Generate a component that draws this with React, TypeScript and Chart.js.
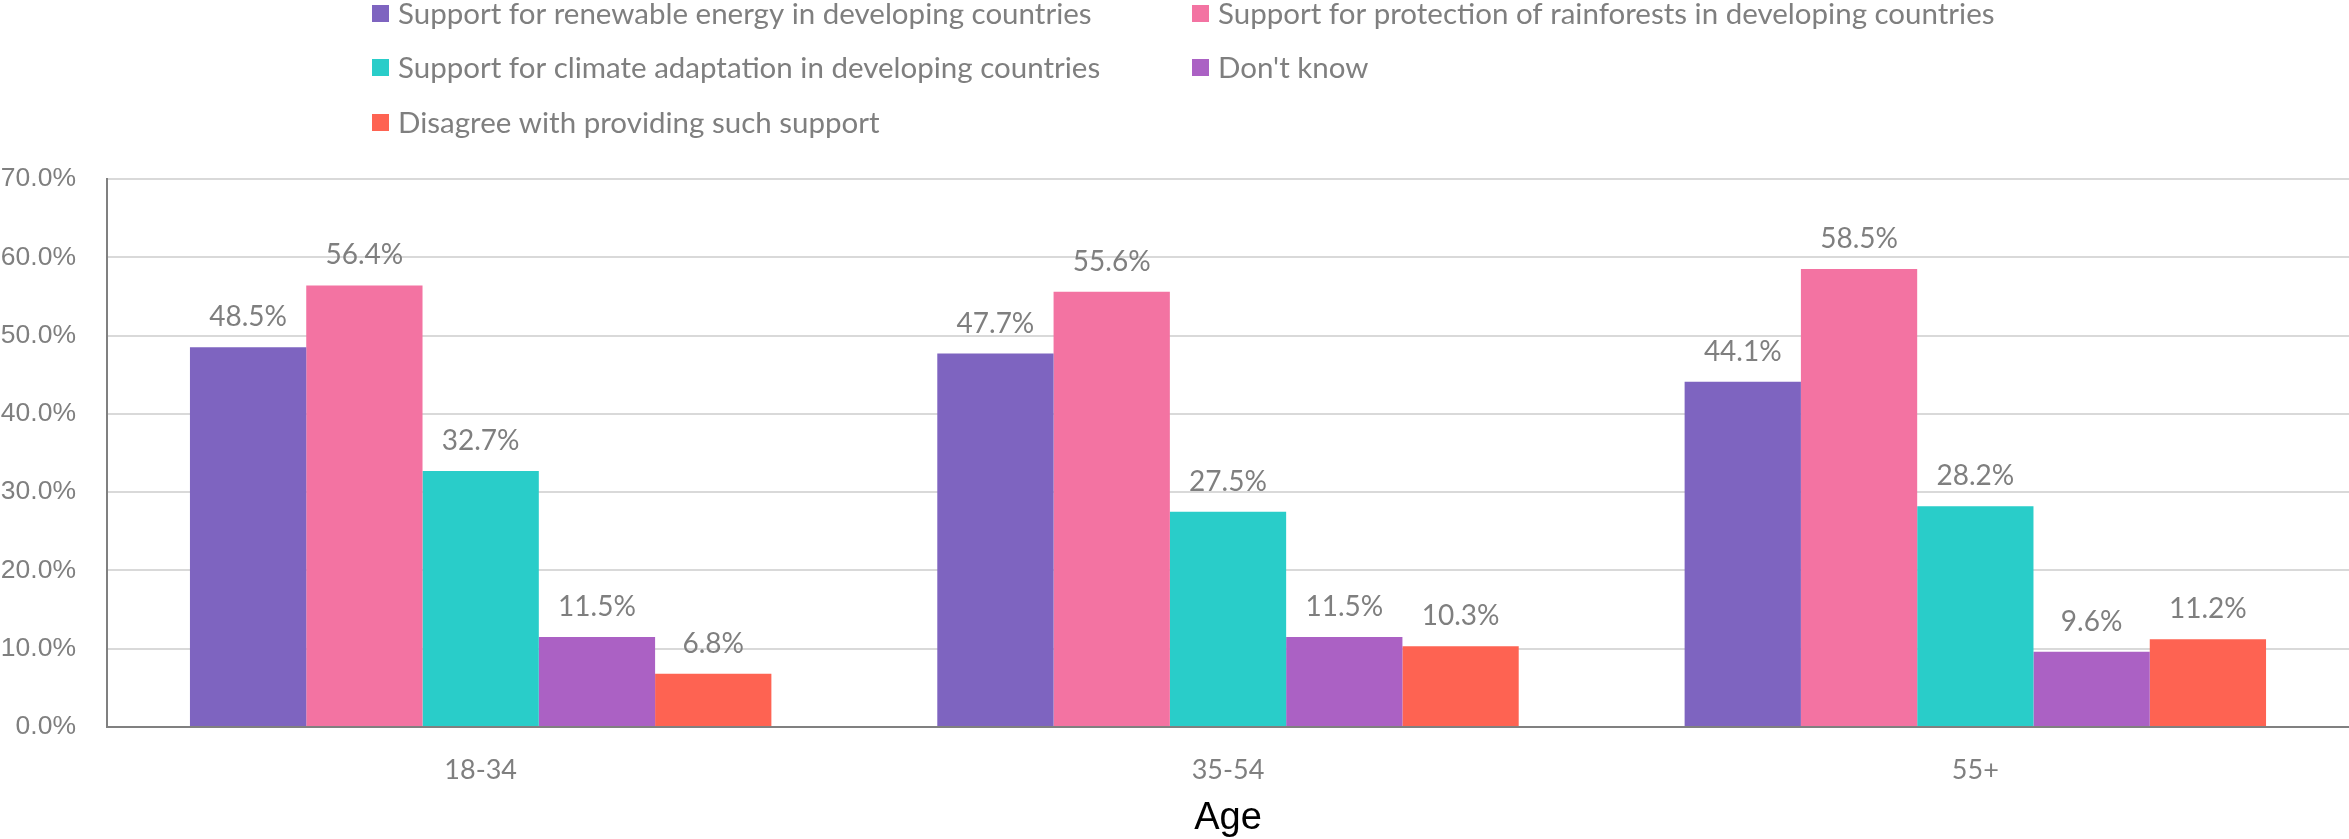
import React, { useEffect, useRef } from 'react';
import { Chart, registerables } from 'chart.js';

Chart.register(...registerables);

const categories = ['18-34', '35-54', '55+'];
const seriesNames = [
  'Support for renewable energy in developing countries',
  'Support for protection of rainforests in developing countries',
  'Support for climate adaptation in developing countries',
  "Don't know",
  'Disagree with providing such support',
];
const renewable = [48.5, 47.7, 44.1];
const rainforests = [56.4, 55.6, 58.5];
const adaptation = [32.7, 27.5, 28.2];
const dontKnow = [11.5, 11.5, 9.6];
const disagree = [6.8, 10.3, 11.2];
const seriesColors = ['#7E64C0', '#F373A2', '#29CDC9', '#AB61C4', '#FE6352'];
const yMin = 0;
const yMax = 70;
const yStep = 10;
const xTitle = 'Age';

const W = 2349;
const H = 839;
const GRAY = '#7f7f7f';

const legendPlugin = {
  id: 'gridLegend',
  afterDraw(chart: any) {
    const ctx = chart.ctx;
    const cols = [372, 1192];
    const rows = [13.5, 67.5, 122.5];
    ctx.save();
    ctx.font = '29.5px Lato';
    ctx.textAlign = 'left';
    ctx.textBaseline = 'alphabetic';
    chart.data.datasets.forEach((ds: any, i: number) => {
      const x = cols[i % 2];
      const y = rows[Math.floor(i / 2)];
      ctx.fillStyle = ds.backgroundColor;
      ctx.fillRect(x, y - 8.5, 17, 17);
      ctx.fillStyle = GRAY;
      ctx.fillText(ds.label, x + 26, y + 10);
    });
    ctx.restore();
  },
};

const valueLabelPlugin = {
  id: 'valueLabels',
  afterDatasetsDraw(chart: any) {
    const ctx = chart.ctx;
    ctx.save();
    ctx.font = '28px Lato';
    ctx.fillStyle = GRAY;
    ctx.textAlign = 'center';
    ctx.textBaseline = 'alphabetic';
    chart.data.datasets.forEach((ds: any, i: number) => {
      const meta = chart.getDatasetMeta(i);
      meta.data.forEach((bar: any, j: number) => {
        const v = ds.data[j] as number;
        ctx.fillText(v.toFixed(1) + '%', bar.x, bar.y - 21);
      });
    });
    ctx.restore();
  },
};

export default function App() {
  const ref = useRef<HTMLCanvasElement>(null);

  useEffect(() => {
    document.body.style.margin = '0';
    const canvas = ref.current;
    if (!canvas) return;
    const seriesData = [renewable, rainforests, adaptation, dontKnow, disagree];
    const chart = new Chart(canvas, {
      type: 'bar',
      data: {
        labels: categories,
        datasets: seriesNames.map((name, i) => ({
          label: name,
          data: seriesData[i],
          backgroundColor: seriesColors[i],
          borderWidth: 0,
          categoryPercentage: 0.778,
          barPercentage: 1,
        })),
      },
      options: {
        responsive: false,
        animation: false,
        devicePixelRatio: 1,
        layout: { padding: { top: 179, left: 0, right: 0, bottom: 0 } },
        plugins: {
          legend: { display: false },
          tooltip: { enabled: false },
          title: { display: false },
        },
        scales: {
          x: {
            grid: { display: false, drawTicks: false },
            border: { display: true, color: '#808080', width: 2 },
            ticks: {
              color: GRAY,
              font: { family: 'Lato', size: 27 },
              padding: 27,
              maxRotation: 0,
            },
            title: {
              display: true,
              text: xTitle,
              color: '#000000',
              font: { family: 'Liberation Sans', size: 38, lineHeight: 1 },
              padding: { top: 0, bottom: 1 },
            },
            afterFit: (scale: any) => {
              scale.height = 112;
            },
          },
          y: {
            min: yMin,
            max: yMax,
            grid: { color: '#d9d9d9', lineWidth: 2, drawTicks: false },
            border: { display: true, color: '#808080', width: 2 },
            ticks: {
              stepSize: yStep,
              color: GRAY,
              font: { family: 'Liberation Sans', size: 26.5 },
              padding: 31,
              callback: (v: any) => Number(v).toFixed(1) + '%',
            },
            afterFit: (scale: any) => {
              scale.width = 107;
            },
          },
        },
      },
      plugins: [legendPlugin, valueLabelPlugin],
    });
    return () => chart.destroy();
  }, []);

  return (
    <div style={{ position: 'absolute', left: 0, top: 0, width: W, height: H }}>
      <canvas ref={ref} width={W} height={H} style={{ width: W, height: H, display: 'block' }} />
    </div>
  );
}
